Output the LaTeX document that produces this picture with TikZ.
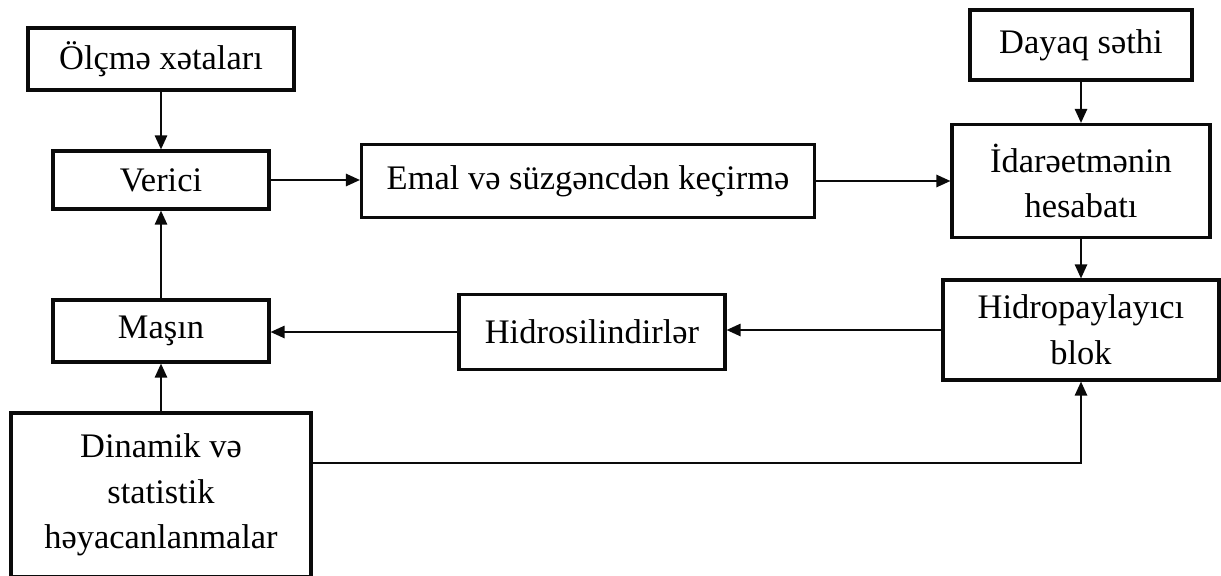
\documentclass[tikz,border=0pt]{standalone}
\usepackage{fontspec}
\setmainfont{Liberation Serif}
\usepackage{xcolor}
\definecolor{blokline}{RGB}{10, 10, 10}
\usetikzlibrary{calc, arrows.meta}

\begin{document}
\begin{tikzpicture}[x=0.02cm, y=-0.02cm, >={Triangle[length=8pt, width=7pt]},
    blok/.style={draw=blokline, line width=1.8pt, align=center, inner sep=2pt,
        font=\fontsize{19.6}{26}\selectfont},
    axin/.style={->, line width=1.1pt, blokline}]

\useasboundingbox (0,0) rectangle (1221,575);

% === Sol sütun ===
\node[blok, minimum width=5.32cm, minimum height=1.24cm] (olcme) at (161,59) {Ölçmə xətaları};
\node[blok, minimum width=4.32cm, minimum height=1.16cm] (verici) at (161,180) {Verici};
\node[blok, minimum width=4.32cm, minimum height=1.24cm] (masin) at (161,331) {Maşın};
\node[blok, line width=2.3pt, minimum width=6.02cm, minimum height=3.30cm] (dinamik) at (161,495)
    {Dinamik və\\statistik\\həyacanlanmalar};

% === Orta sütun ===
\node[blok, minimum width=9.06cm, minimum height=1.46cm] (emal) at (588,181) {Emal və süzgəncdən keçirmə};
\node[blok, minimum width=5.32cm, minimum height=1.50cm] (hidrosil) at (592,332) {Hidrosilindirlər};

% === Sağ sütun ===
\node[blok, minimum width=4.44cm, minimum height=1.40cm] (dayaq) at (1081,45) {Dayaq səthi};
\node[blok, minimum width=5.16cm, minimum height=2.26cm] (idare) at (1081,181) {İdarəetmənin\\hesabatı};
\node[blok, minimum width=5.52cm, minimum height=2.00cm] (hidropay) at (1081,330) {Hidropaylayıcı\\blok};

% === Oxlar ===
\draw[axin] (olcme) -- (verici);
\draw[axin] (verici.east) -- (verici.east -| emal.west);
\draw[axin] (emal.east) -- (emal.east -| idare.west);
\draw[axin] (dayaq) -- (idare);
\draw[axin] (idare) -- (hidropay);
\draw[axin] (hidropay.west) -- (hidropay.west -| hidrosil.east);
\draw[axin] (hidrosil.west) -- (hidrosil.west -| masin.east);
\draw[axin] (masin) -- (verici);
\draw[axin] (dinamik) -- (masin);
\draw[axin] ([yshift=0.64cm]dinamik.east) -| (hidropay.south);

\end{tikzpicture}
\end{document}
